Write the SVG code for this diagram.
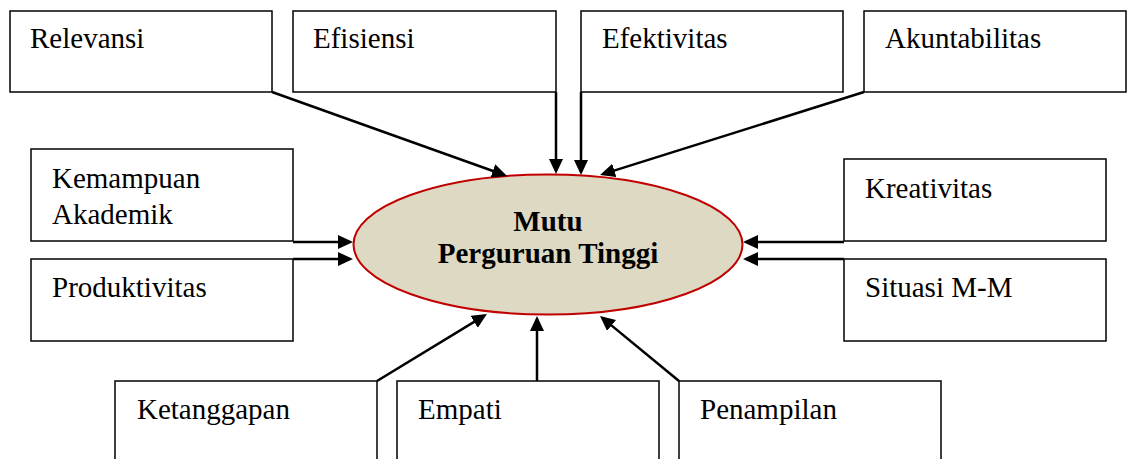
<svg xmlns="http://www.w3.org/2000/svg" width="1128" height="459" viewBox="0 0 1128 459">
  <style>
    .box { fill: #ffffff; stroke: #000000; stroke-width: 1.5; }
    text { font-family: 'Liberation Serif', 'DejaVu Serif', 'Times New Roman', Times, serif; font-size: 29px; fill: #000000; }
    .core { font-weight: bold; text-anchor: middle; }
    .link { fill: none; stroke: #000000; stroke-width: 2.5; marker-end: url(#arrow); }
  </style>
  <defs>
    <marker id="arrow" markerUnits="userSpaceOnUse" markerWidth="16" markerHeight="16" refX="12" refY="7" orient="auto">
      <path d="M0,0 L15,7 L0,14 Z" fill="#000000"/>
    </marker>
  </defs>
  <rect width="1128" height="459" fill="#ffffff"/>

  <g font-family="Liberation Serif, serif">
  <!-- factor boxes -->
  <g id="relevansi"><rect class="box" x="10" y="11" width="262" height="81"/><text x="30" y="48">Relevansi</text></g>
  <g id="efisiensi"><rect class="box" x="293" y="11" width="263" height="81"/><text x="313" y="48">Efisiensi</text></g>
  <g id="efektivitas"><rect class="box" x="581" y="11" width="262" height="81"/><text x="602" y="48">Efektivitas</text></g>
  <g id="akuntabilitas"><rect class="box" x="864" y="11" width="262" height="81"/><text x="885" y="48">Akuntabilitas</text></g>

  <g id="kemampuan-akademik"><rect class="box" x="31" y="149" width="262" height="92"/><text x="52" y="188">Kemampuan</text><text x="52" y="224">Akademik</text></g>
  <g id="produktivitas"><rect class="box" x="31" y="259" width="262" height="82"/><text x="52" y="297">Produktivitas</text></g>

  <g id="kreativitas"><rect class="box" x="844" y="159" width="262" height="82"/><text x="865" y="198">Kreativitas</text></g>
  <g id="situasi-mm"><rect class="box" x="844" y="259" width="262" height="82"/><text x="865" y="297">Situasi M-M</text></g>

  <g id="ketanggapan"><rect class="box" x="115" y="381" width="262" height="100"/><text x="137" y="419">Ketanggapan</text></g>
  <g id="empati"><rect class="box" x="397" y="381" width="262" height="100"/><text x="418" y="419">Empati</text></g>
  <g id="penampilan"><rect class="box" x="679" y="381" width="262" height="100"/><text x="700" y="419">Penampilan</text></g>

  <!-- central concept -->
  <g id="mutu-perguruan-tinggi">
    <ellipse cx="548" cy="244.5" rx="194.5" ry="70" fill="#DDD9C3" stroke="#C00000" stroke-width="2"/>
    <text class="core" x="548" y="231">Mutu</text>
    <text class="core" x="548" y="263">Perguruan Tinggi</text>
  </g>
  </g>

  <!-- connectors -->
  <g id="connectors">
    <path class="link" d="M272,92 L504.2,175"/>
    <path class="link" d="M556,92 L556,171"/>
    <path class="link" d="M581,92 L581,172"/>
    <path class="link" d="M864,92 L602.9,174.1"/>
    <path class="link" d="M293,242 L350,242"/>
    <path class="link" d="M293,259 L350,259"/>
    <path class="link" d="M844,242 L746,242"/>
    <path class="link" d="M844,259 L746,259"/>
    <path class="link" d="M377,381 L484.4,315.6"/>
    <path class="link" d="M537,381 L537,319"/>
    <path class="link" d="M679,381 L602.3,317.9"/>
  </g>
</svg>
